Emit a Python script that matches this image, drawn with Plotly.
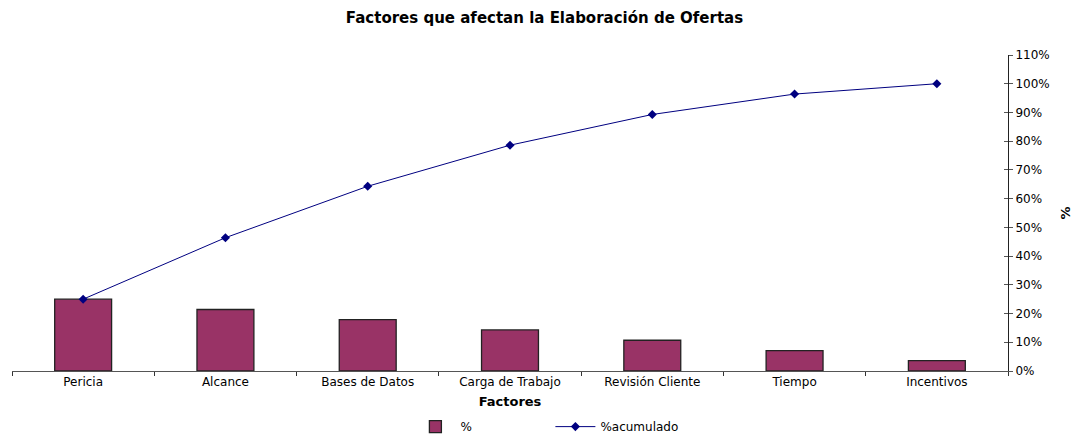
import plotly.graph_objects as go

categories = ["Pericia", "Alcance", "Bases de Datos", "Carga de Trabajo",
              "Revisión Cliente", "Tiempo", "Incentivos"]
pct = [0.25, 0.214, 0.179, 0.143, 0.107, 0.071, 0.036]
pct_acum = [0.25, 0.464, 0.643, 0.786, 0.893, 0.964, 1.0]

FONT = "DejaVu Sans, Liberation Sans, Arial, sans-serif"

fig = go.Figure()
fig.add_trace(go.Bar(
    x=categories, y=pct, name="%", yaxis="y",
    marker=dict(color="#993366", line=dict(color="#222222", width=1.3)),
))
fig.add_trace(go.Scatter(
    x=categories, y=pct_acum, name="%acumulado", yaxis="y",
    mode="lines+markers",
    line=dict(color="#000080", width=1),
    marker=dict(symbol="diamond", size=7, color="#000080"),
))
# invisible helper trace for inner ticks
fig.add_trace(go.Scatter(x=categories, y=pct_acum, yaxis="y2", mode="none",
                         showlegend=False, hoverinfo="skip"))

fig.update_layout(
    width=1089, height=434,
    margin=dict(l=12, r=81, t=55, b=63, autoexpand=False),
    paper_bgcolor="white", plot_bgcolor="white",
    font=dict(family=FONT, size=12, color="black"),
    title=dict(text="<b>Factores que afectan la Elaboración de Ofertas</b>",
               x=0.5, xanchor="center", y=0.958, yanchor="middle",
               font=dict(size=15, family=FONT)),
    bargap=0.6,
    xaxis=dict(
        showline=True, linecolor="#555555", linewidth=1,
        ticks="outside", tickson="boundaries", ticklen=4, tickcolor="#333333",
        showgrid=False, zeroline=False, automargin=False,
        title=dict(text="<b>Factores</b>", font=dict(size=13), standoff=8),
        tickfont=dict(size=12),
    ),
    yaxis=dict(
        side="right", range=[0, 1.1], dtick=0.1, tickformat=".0%",
        showline=True, linecolor="#222222", linewidth=1,
        ticks="outside", ticklen=4, tickcolor="#555555",
        showgrid=False, zeroline=False, automargin=False,
        title=dict(text="<b>%</b>", font=dict(size=13), standoff=12),
        tickfont=dict(size=12),
    ),
    yaxis2=dict(
        overlaying="y", side="right", range=[0, 1.1], dtick=0.1,
        ticks="inside", ticklen=4, tickcolor="#555555",
        showticklabels=False, showgrid=False, zeroline=False, showline=False,
    ),
    legend=dict(orientation="h", x=0.40, xanchor="left", y=-0.176,
                yanchor="middle", font=dict(size=12), itemwidth=40,
                entrywidth=85, entrywidthmode="pixels",
                traceorder="normal"),
)

fig.write_html("out.html")
